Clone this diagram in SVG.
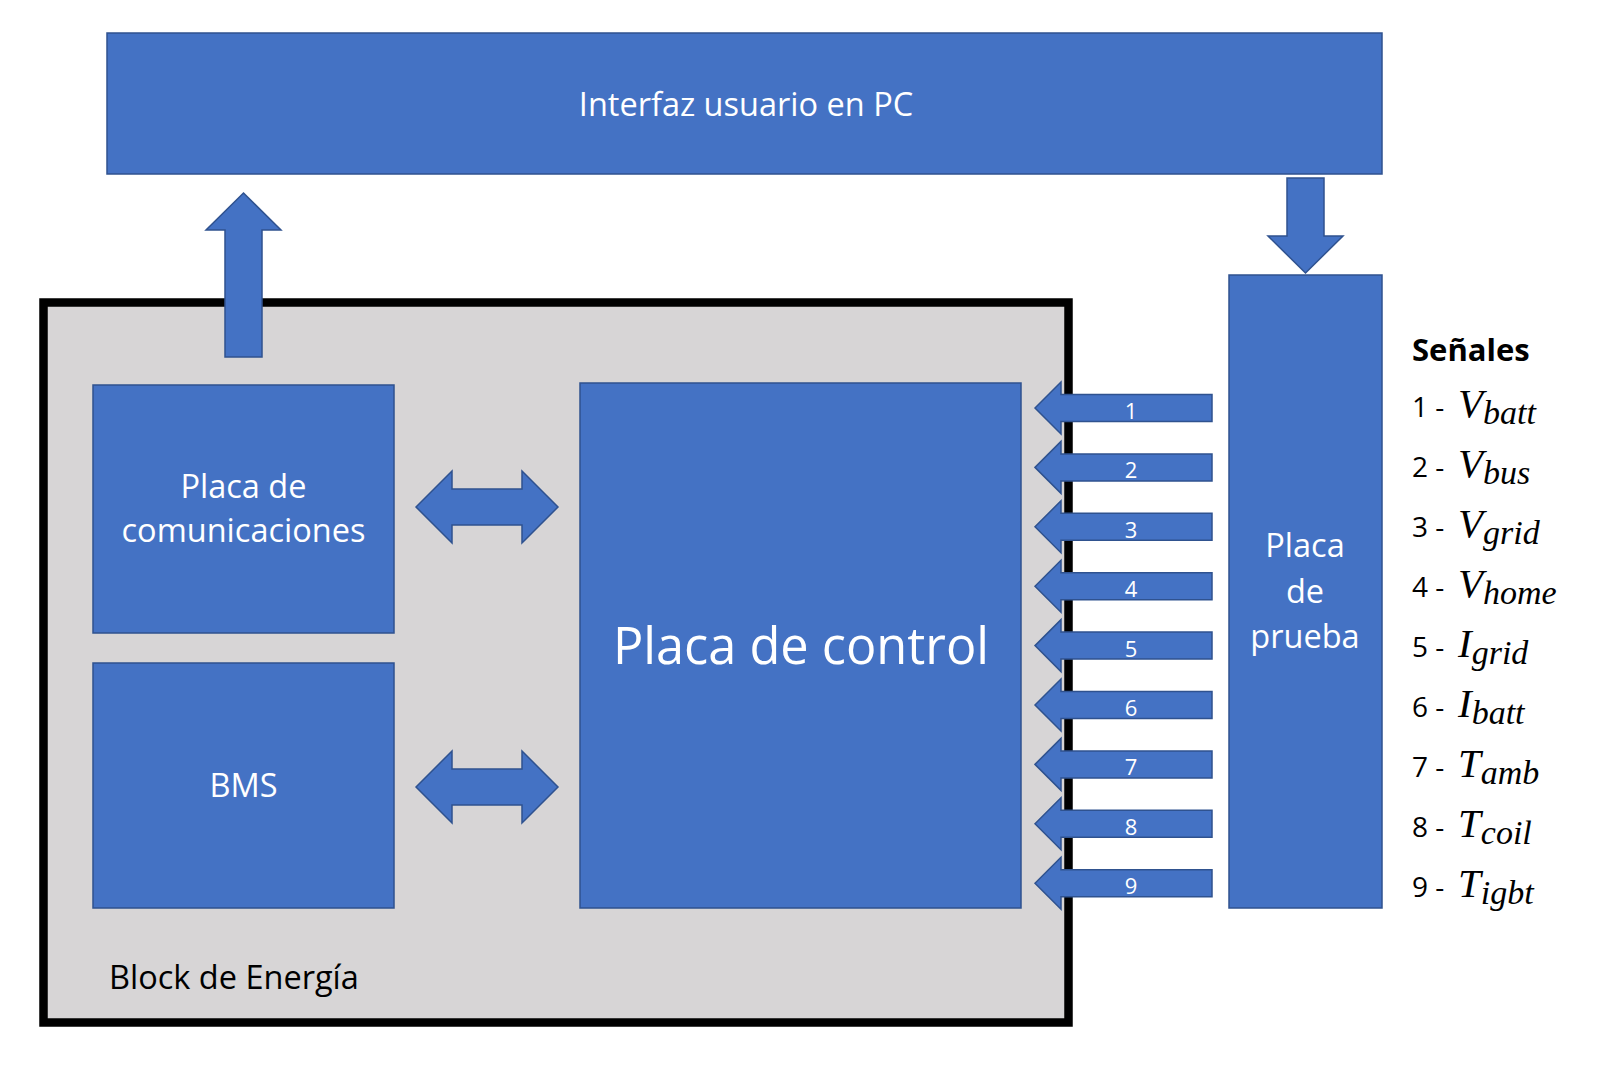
<svg xmlns="http://www.w3.org/2000/svg" xmlns:xlink="http://www.w3.org/1999/xlink" width="1616" height="1067" viewBox="0 0 1616 1067">
  <style>
    .box { fill: #4472C4; stroke: #2F528F; stroke-width: 1.5; }
    .arr { fill: #4472C4; stroke: #2F528F; stroke-width: 1.5; stroke-linejoin: miter; }
    .wt { fill: #FFFFFF; font-family: "Open Sans", "Liberation Sans", sans-serif; text-anchor: middle; }
    .bt { fill: #000000; font-family: "Open Sans", "Liberation Sans", sans-serif; }
    .num { fill: #FFFFFF; font-family: "Open Sans", "Liberation Sans", sans-serif; font-size: 22px; text-anchor: middle; }
    .sig { font-size: 28px; }
    .math { font-family: "Liberation Serif", "DejaVu Serif", serif; font-style: italic; }
    .mv { font-size: 41px; }
    .ms { font-size: 34px; }
  </style>
  <defs>
    <polygon id="inArrow" class="arr" points="1035,0 1061,-26 1061,-13.5 1212,-13.5 1212,13.5 1061,13.5 1061,26"/>
    <polygon id="dblArrow" class="arr" points="416,0 452,-36 452,-18 522,-18 522,-36 558,0 522,36 522,18 452,18 452,36"/>
  </defs>
  <rect x="0" y="0" width="1616" height="1067" fill="#FFFFFF"/>

  <g id="block-energia">
    <rect x="43.5" y="302.5" width="1025" height="720" fill="#D7D5D6" stroke="#000000" stroke-width="8.5"/>
    <text class="bt" x="109" y="989" font-size="32.5">Block de Energía</text>
  </g>

  <g id="interfaz-pc">
    <rect class="box" x="107" y="33" width="1275" height="141"/>
    <text class="wt" x="746" y="116" font-size="32.5">Interfaz usuario en PC</text>
  </g>

  <g id="placa-comunicaciones">
    <rect class="box" x="93" y="385" width="301" height="248"/>
    <text class="wt" x="243.5" y="498" font-size="32.5">Placa de</text>
    <text class="wt" x="243.5" y="542" font-size="32.5">comunicaciones</text>
  </g>

  <g id="bms">
    <rect class="box" x="93" y="663" width="301" height="245"/>
    <text class="wt" x="243.5" y="797" font-size="32.5">BMS</text>
  </g>

  <g id="placa-control">
    <rect class="box" x="580" y="383" width="441" height="525"/>
    <text class="wt" x="801" y="664" font-size="50.5">Placa de control</text>
  </g>

  <g id="placa-prueba">
    <rect class="box" x="1229" y="275" width="153" height="633"/>
    <text class="wt" x="1305" y="557" font-size="32.5">Placa</text>
    <text class="wt" x="1305" y="603" font-size="32.5">de</text>
    <text class="wt" x="1305" y="648" font-size="32.5">prueba</text>
  </g>

  <g id="connectors">
    <polygon class="arr" points="243.5,193 281,230 262,230 262,357 225,357 225,230 206,230"/>
    <polygon class="arr" points="1305.5,273 1343,236 1324,236 1324,178 1287,178 1287,236 1268,236"/>
    <use xlink:href="#dblArrow" href="#dblArrow" transform="translate(0,507)"/>
    <use xlink:href="#dblArrow" href="#dblArrow" transform="translate(0,787)"/>
    <use xlink:href="#inArrow" href="#inArrow" transform="translate(0,408)"/>
    <use xlink:href="#inArrow" href="#inArrow" transform="translate(0,467.4)"/>
    <use xlink:href="#inArrow" href="#inArrow" transform="translate(0,526.8)"/>
    <use xlink:href="#inArrow" href="#inArrow" transform="translate(0,586.2)"/>
    <use xlink:href="#inArrow" href="#inArrow" transform="translate(0,645.6)"/>
    <use xlink:href="#inArrow" href="#inArrow" transform="translate(0,705)"/>
    <use xlink:href="#inArrow" href="#inArrow" transform="translate(0,764.4)"/>
    <use xlink:href="#inArrow" href="#inArrow" transform="translate(0,823.8)"/>
    <use xlink:href="#inArrow" href="#inArrow" transform="translate(0,883.2)"/>
    <text class="num" x="1131" y="419">1</text>
    <text class="num" x="1131" y="478.4">2</text>
    <text class="num" x="1131" y="537.8">3</text>
    <text class="num" x="1131" y="597.2">4</text>
    <text class="num" x="1131" y="656.6">5</text>
    <text class="num" x="1131" y="716">6</text>
    <text class="num" x="1131" y="775.4">7</text>
    <text class="num" x="1131" y="834.8">8</text>
    <text class="num" x="1131" y="894.2">9</text>
  </g>

  <g id="senales">
    <text class="bt" x="1412" y="361" font-size="31" font-weight="bold">Señales</text>
    <text class="bt sig" x="1412" y="417">1 - <tspan class="math mv" x="1458">V</tspan><tspan class="math ms" dy="7">batt</tspan></text>
    <text class="bt sig" x="1412" y="477">2 - <tspan class="math mv" x="1458">V</tspan><tspan class="math ms" dy="7">bus</tspan></text>
    <text class="bt sig" x="1412" y="537">3 - <tspan class="math mv" x="1458">V</tspan><tspan class="math ms" dy="7">grid</tspan></text>
    <text class="bt sig" x="1412" y="597">4 - <tspan class="math mv" x="1458">V</tspan><tspan class="math ms" dy="7">home</tspan></text>
    <text class="bt sig" x="1412" y="657">5 - <tspan class="math mv" x="1458">I</tspan><tspan class="math ms" dy="7">grid</tspan></text>
    <text class="bt sig" x="1412" y="717">6 - <tspan class="math mv" x="1458">I</tspan><tspan class="math ms" dy="7">batt</tspan></text>
    <text class="bt sig" x="1412" y="777">7 - <tspan class="math mv" x="1458">T</tspan><tspan class="math ms" dy="7">amb</tspan></text>
    <text class="bt sig" x="1412" y="837">8 - <tspan class="math mv" x="1458">T</tspan><tspan class="math ms" dy="7">coil</tspan></text>
    <text class="bt sig" x="1412" y="897">9 - <tspan class="math mv" x="1458">T</tspan><tspan class="math ms" dy="7">igbt</tspan></text>
  </g>
</svg>
